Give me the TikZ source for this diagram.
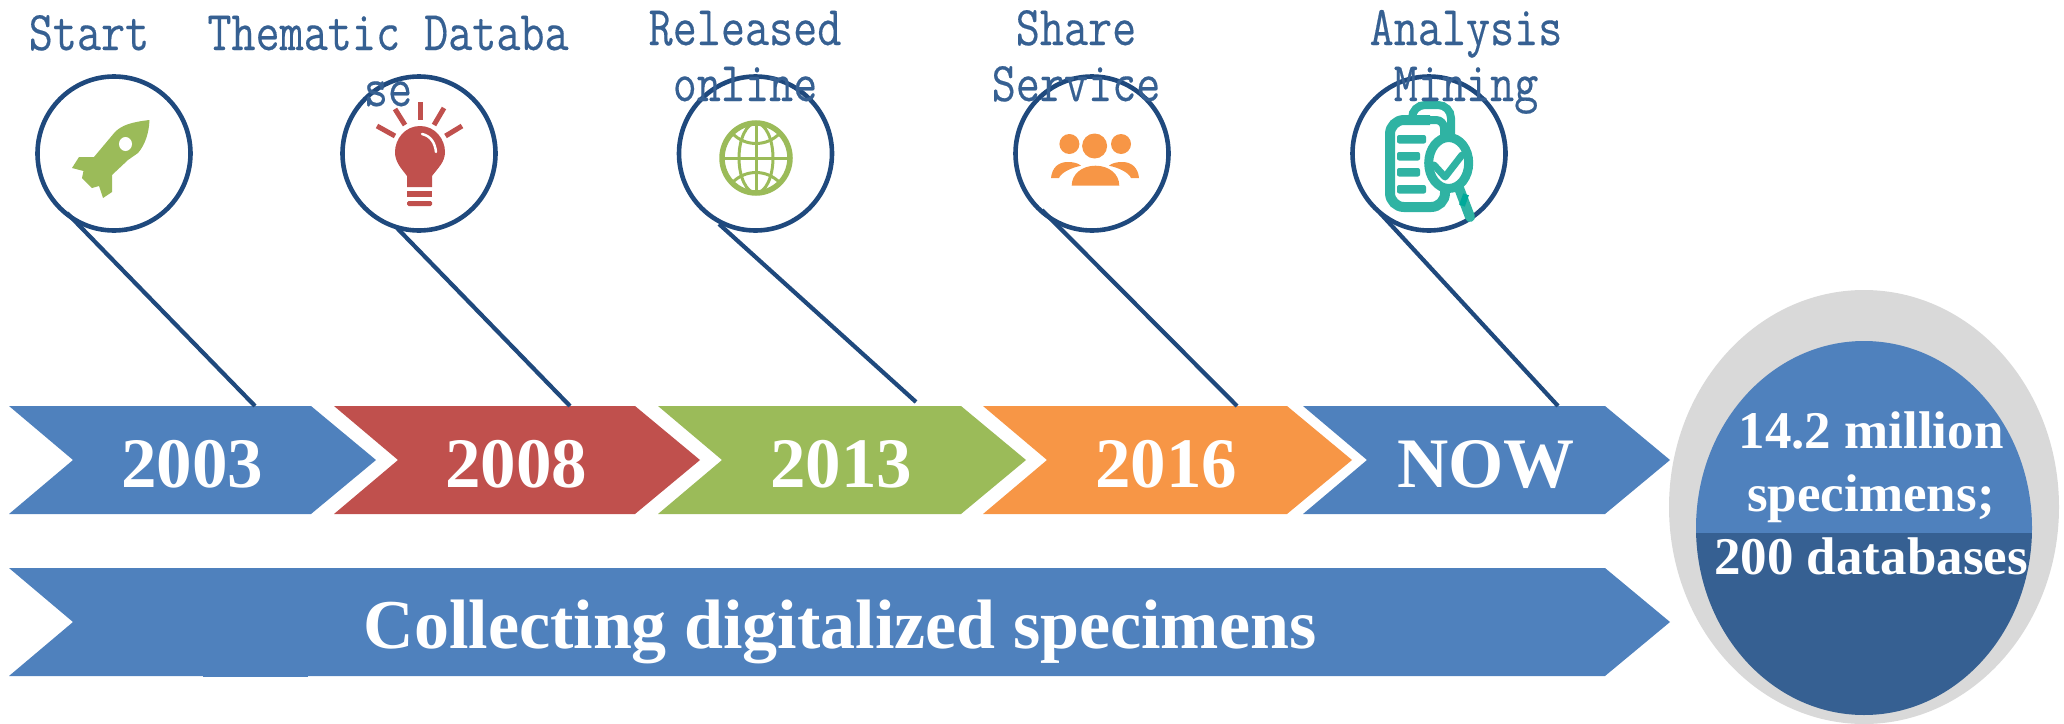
\documentclass[tikz,border=0pt]{standalone}
\usepackage{fontspec}
\setmainfont{Liberation Serif}
\newfontfamily\lablfont{Latin Modern Mono}[FakeBold=0.35]
\usetikzlibrary{shapes.geometric}
\definecolor{cblue}{HTML}{4F81BD}
\definecolor{cred}{HTML}{C0504D}
\definecolor{cgreen}{HTML}{9BBB59}
\definecolor{corange}{HTML}{F79646}
\definecolor{cdark}{HTML}{366092}
\definecolor{cline}{HTML}{1F497D}
\definecolor{cgray}{HTML}{D9D9D9}
\definecolor{cteal}{HTML}{2FB3A3}
\definecolor{ctealdark}{HTML}{00A99A}
\tikzset{
  x=1pt,y=-1pt,
  ring/.style={ellipse,draw=cline,line width=4.6pt,minimum width=153pt,minimum height=154pt,inner sep=0pt},
  stem/.style={draw=cline,line width=4.2pt},
  toplabel/.style={text=cdark,inner sep=0pt,anchor=base,font=\fontsize{56}{56}\selectfont\lablfont},
  yearlabel/.style={text=white,inner sep=0pt,anchor=base,font=\fontsize{71}{71}\selectfont\bfseries},
  circlabel/.style={text=white,inner sep=0pt,anchor=base,font=\fontsize{53}{53}\selectfont\bfseries},
}
\newcommand{\chev}[6]{% fill, x0, x1, ytop, ybot, ymid
  \fill[#1] (#2,#4) -- (#3-65,#4) -- (#3,#6) -- (#3-65,#5) -- (#2,#5) -- (#2+64,#6) -- cycle;}
\newcommand{\toptext}[1]{\scalebox{0.835}[1]{#1}}
\begin{document}
\begin{tikzpicture}
\useasboundingbox (0,0) rectangle (2064,723);
% chevrons
\chev{cblue}{9}{376}{406}{514}{460}
\chev{cred}{334}{700}{406}{514}{460}
\chev{cgreen}{658}{1026}{406}{514}{460}
\chev{corange}{983}{1352}{406}{514}{460}
\chev{cblue}{1303}{1670}{406}{514}{460}
\chev{cblue}{9}{1670}{568}{676}{622}
\fill[cblue] (203,674) rectangle (308,677);
% chevron labels
\node[yearlabel] (y1) at (192,487) {2003};
\node[yearlabel] (y2) at (516,487) {2008};
\node[yearlabel] (y3) at (841,487) {2013};
\node[yearlabel] (y4) at (1166,487) {2016};
\node[yearlabel] (y5) at (1486,487) {NOW};
\node[yearlabel,font=\fontsize{70}{70}\selectfont\bfseries] (coll) at (840,648) {Collecting digitalized specimens};
% result ellipse
\fill[cgray] (1864,507) ellipse [x radius=195,y radius=217];
\begin{scope}
  \clip (1864,528) ellipse [x radius=168,y radius=187];
  \fill[cblue] (1690,335) rectangle (2040,533);
  \fill[cdark] (1690,533) rectangle (2040,720);
\end{scope}
\node[circlabel] (r1) at (1871,448) {14.2 million};
\node[circlabel] (r2) at (1871,511) {specimens;};
\node[circlabel] (r3) at (1871,574) {200 databases};
% rings and stems
\node[ring] (c1) at (114,153.5) {};
\node[ring] (c2) at (419,153.5) {};
\node[ring] (c3) at (755.5,153.5) {};
\node[ring] (c4) at (1092,153.5) {};
\node[ring] (c5) at (1429,153.5) {};
\coordinate (s1) at (67,213); \coordinate (e1) at (255,406);
\coordinate (s2) at (397,228); \coordinate (e2) at (570,406);
\coordinate (s3) at (719,224); \coordinate (e3) at (916,402);
\coordinate (s4) at (1042,210); \coordinate (e4) at (1237,406);
\coordinate (s5) at (1380,213); \coordinate (e5) at (1558,406);
\draw[stem] (s1) -- (e1);
\draw[stem] (s2) -- (e2);
\draw[stem] (s3) -- (e3);
\draw[stem] (s4) -- (e4);
\draw[stem] (s5) -- (e5);
% rocket
\fill[cgreen] (149.5,120) .. controls (132,122) and (122,125) .. (115,132) -- (94,157) -- (79,157) -- (72,168) -- (83.5,171) -- (82,178) -- (92,188) -- (99,186) -- (103,198) -- (112,192) -- (112,175) -- (128,160) -- (138,153) .. controls (145,145) and (149,133) .. cycle;
\fill[white] (125.5,144) ellipse [x radius=6.5,y radius=7];
% bulb
\fill[cred] (420,126) .. controls (405,126) and (395,139) .. (395,152) .. controls (395,162) and (401,168) .. (407,176) -- (407,187) -- (432,187) -- (432,176) .. controls (438,168) and (445,162) .. (445,152) .. controls (445,139) and (435,126) .. cycle;
\draw[white,line width=2.5pt,line cap=round] (422,134) .. controls (431,136) and (435,143) .. (436,152);
\fill[cred] (407,191) rectangle (432,197);
\fill[cred,rounded corners=1.5pt] (407,201) rectangle (432,206);
\begin{scope}[draw=cred,line width=5pt]
\draw (420,102) -- (420,120);
\draw (395,109) -- (405,125);
\draw (444,108) -- (434,125);
\draw (377,126) -- (395,136);
\draw (462,126) -- (445.5,136);
\end{scope}
% globe
\begin{scope}[draw=cgreen]
\draw[line width=5.5pt] (756,158) ellipse [x radius=34,y radius=35];
\draw[line width=3pt] (756,158) ellipse [x radius=17,y radius=35];
\draw[line width=3pt] (756,123) -- (756,193);
\draw[line width=3.5pt] (722,158.5) -- (790,158.5);
\draw[line width=3pt] (732,133) .. controls (745,147) and (767,147) .. (780,133);
\draw[line width=3pt] (732,183) .. controls (745,169) and (767,169) .. (780,183);
\end{scope}
% people
\begin{scope}[fill=corange]
\fill (1094.6,146) ellipse [x radius=12.5,y radius=12.5];
\fill (1069.4,144) ellipse [x radius=10,y radius=10];
\fill (1121,144) ellipse [x radius=10,y radius=10];
\fill (1071.7,185.7) .. controls (1071.7,174) and (1082,165.7) .. (1095.5,165.7) .. controls (1109,165.7) and (1119.3,174) .. (1119.3,185.7) -- cycle;
\fill (1051,178) .. controls (1052,168) and (1058,162) .. (1067.7,162) .. controls (1073,162) and (1078,163) .. (1081,165.7) .. controls (1070,168) and (1061,173) .. (1059,178) -- cycle;
\fill (1139,178) .. controls (1138,168) and (1132,162) .. (1122.3,162) .. controls (1117,162) and (1112,163) .. (1109,165.7) .. controls (1120,168) and (1129,173) .. (1131,178) -- cycle;
\end{scope}
% clipboard and magnifier
\draw[cteal,line width=8pt,rounded corners=13pt] (1412,118) -- (1412,105) -- (1451,105) -- (1451,135);
\draw[cteal,line width=10pt,rounded corners=14pt] (1430,120) -- (1390,120) -- (1390,207) -- (1445,207) -- (1445,185);
\draw[cteal,line width=8pt,rounded corners=8pt] (1425,120) -- (1444,120) -- (1444,135);
\foreach \yy/\xe in {135/1426,152/1420,168/1420,185/1426} \fill[cteal,rounded corners=2pt] (1397,\yy) rectangle (\xe,\yy+8.5);
\draw[cteal,line width=10pt,line cap=round] (1459,188) -- (1470,217);
\fill[ctealdark,rotate around={-20:(1464,200)}] (1461,194) rectangle (1467,206);
\draw[cteal,line width=9pt,fill=white] (1448.7,163) ellipse [x radius=20,y radius=25.5];
\draw[cteal,line width=7pt,line cap=round,line join=round] (1434,165) -- (1445,177) -- (1462,155);
% top labels
\node[toplabel] (t1) at (89,50) {\toptext{Start}};
\node[toplabel] (t2a) at (388,50) {\toptext{Thematic Databa}};
\node[toplabel] (t2b) at (388,106) {\toptext{se}};
\node[toplabel] (t3a) at (745,45) {\toptext{Released}};
\node[toplabel] (t3b) at (745,101) {\toptext{online}};
\node[toplabel] (t4a) at (1076,45) {\toptext{Share}};
\node[toplabel] (t4b) at (1076,101) {\toptext{Service}};
\node[toplabel] (t5a) at (1466,45) {\toptext{Analysis}};
\node[toplabel] (t5b) at (1466,101) {\toptext{Mining}};
\end{tikzpicture}
\end{document}
